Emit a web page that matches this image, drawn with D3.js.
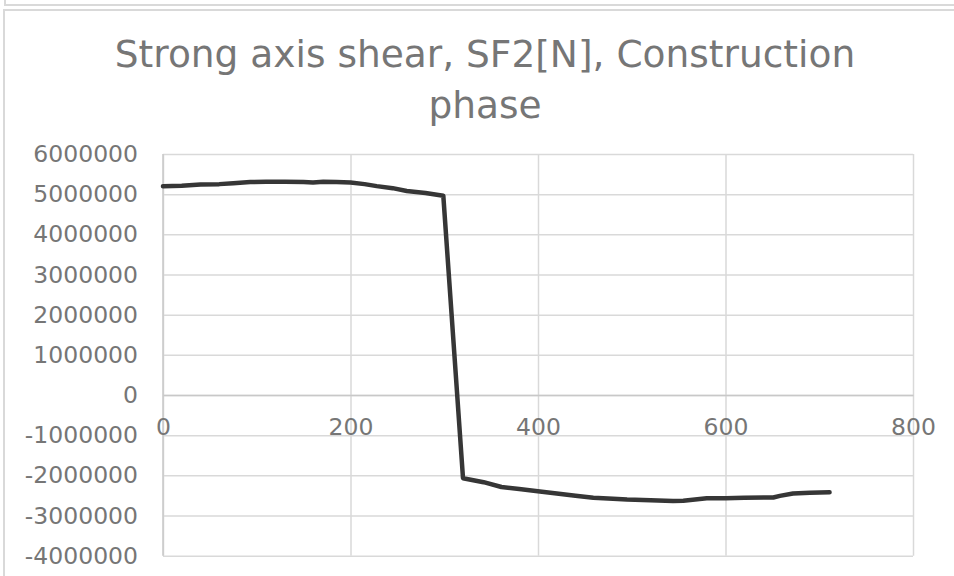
<!DOCTYPE html>
<html>
<head>
<meta charset="utf-8">
<script src="https://cdn.jsdelivr.net/npm/d3@7"></script>
<style>
  body { margin: 0; background: #fff; }
  svg { display: block; font-family: "DejaVu Sans", Verdana, sans-serif; }
</style>
</head>
<body>
<svg id="chart" width="954" height="576"></svg>
<script>
// values
var stations = [0, 20, 40, 60, 75, 93, 110, 130, 150, 160, 171, 185, 200, 215, 228, 245, 260, 280, 299,
                320, 342, 361, 380, 402, 420, 440, 459, 480, 495, 520, 544, 555, 580, 600, 620, 651, 658, 672, 690, 711];
var shear = [5200000, 5210000, 5240000, 5250000, 5270000, 5300000, 5310000, 5310000, 5300000, 5290000,
             5310000, 5300000, 5290000, 5250000, 5200000, 5150000, 5080000, 5030000, 4960000,
             -2070000, -2170000, -2290000, -2340000, -2400000, -2450000, -2510000, -2560000, -2580000,
             -2600000, -2620000, -2640000, -2630000, -2570000, -2570000, -2560000, -2550000, -2510000,
             -2450000, -2430000, -2420000];
var xTicks = [0, 200, 400, 600, 800];
var yTicks = [-4000000, -3000000, -2000000, -1000000, 0, 1000000, 2000000, 3000000, 4000000, 5000000, 6000000];
var titleLines = ["Strong axis shear, SF2[N], Construction", "phase"];

var svg = d3.select("#chart");
// note: "top" is taken by window.top, so plotT/plotB
var plotL = 163, plotR = 913, plotT = 154, plotB = 555.7;

var x = d3.scaleLinear().domain([0, 800]).range([plotL, plotR]);
var y = d3.scaleLinear().domain([-4000000, 6000000]).range([plotB, plotT]);

// plain hyphen like excel, not the unicode minus d3.format gives
var fmt = d => String(d);

// frames
svg.append("path")
  .attr("d", "M5,0V5H954")
  .attr("fill", "none").attr("stroke", "#d9d9d9").attr("stroke-width", 2);
svg.append("path")
  .attr("d", "M4,576V10H954")
  .attr("fill", "none").attr("stroke", "#d9d9d9").attr("stroke-width", 2);

// title
svg.append("g").selectAll("text")
  .data(titleLines)
  .enter()
  .append("text")
  .attr("x", 485)
  .attr("y", (d, i) => 66.5 + i * 51)
  .attr("text-anchor", "middle")
  .attr("fill", "#767676")
  .style("font-size", "37.5px")
  .text(d => d);

// vertical grid
svg.append("g")
  .attr("transform", `translate(0,${plotB})`)
  .call(d3.axisBottom(x).tickValues(xTicks).tickSize(-(plotB - plotT)).tickFormat(""))
  .call(g => g.select(".domain").remove())
  .call(g => g.selectAll("line").attr("stroke", "#d9d9d9").attr("stroke-width", 1.5));

// horizontal grid + y labels
svg.append("g")
  .attr("transform", `translate(${plotL},0)`)
  .attr("font-family", null)
  .attr("font-size", null)
  .call(d3.axisLeft(y).tickValues(yTicks).tickSize(-(plotR - plotL)).tickPadding(25).tickFormat(fmt))
  .attr("font-family", null)
  .attr("font-size", null)
  .call(g => g.select(".domain").remove())
  .call(g => g.selectAll("line").attr("stroke", "#d9d9d9").attr("stroke-width", 1.5))
  .call(g => g.selectAll("text").attr("fill", "#767676").style("font-size", "23.5px"));

// axis lines
svg.append("line")
  .attr("x1", plotL).attr("x2", plotL).attr("y1", plotT).attr("y2", plotB)
  .attr("stroke", "#c8c8c8").attr("stroke-width", 1.5);

svg.append("g")
  .attr("transform", `translate(0,${y(0)})`)
  .call(d3.axisBottom(x).tickValues(xTicks).tickSize(0).tickPadding(23).tickFormat(fmt))
  .attr("font-family", null)
  .attr("font-size", null)
  .call(g => g.select(".domain").attr("stroke", "#c8c8c8").attr("stroke-width", 1.5))
  .call(g => g.selectAll("text").attr("fill", "#767676").style("font-size", "23.5px"));

// the series
var line = d3.line()
  .x((d, i) => x(stations[i]))
  .y(d => y(d));

svg.append("path")
  .datum(shear)
  .attr("d", line)
  .attr("fill", "none")
  .attr("stroke", "#363636")
  .attr("stroke-width", 4.5)
  .attr("stroke-linejoin", "round")
  .attr("stroke-linecap", "round");
</script>
</body>
</html>
